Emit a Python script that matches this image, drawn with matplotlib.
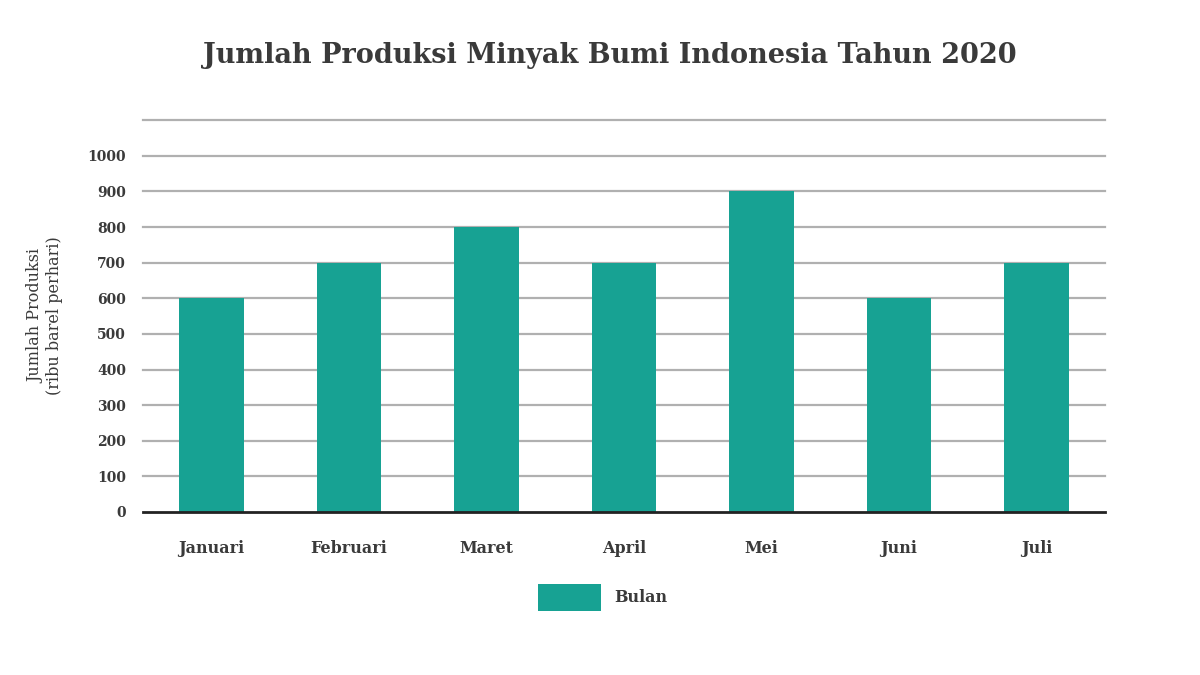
import matplotlib
matplotlib.use("Agg")
import matplotlib.pyplot as plt
from matplotlib.patches import Patch

months = ["Januari", "Februari", "Maret", "April", "Mei", "Juni", "Juli"]
production = [600, 700, 800, 700, 900, 600, 700]
yticks = [0, 100, 200, 300, 400, 500, 600, 700, 800, 900, 1000]
series_name = "Bulan"
title = "Jumlah Produksi Minyak Bumi Indonesia Tahun 2020"
ylabel = "Jumlah Produksi\n(ribu barel perhari)"

bar_color = "#17a293"
text_color = "#3a3a3a"

plt.rcParams['font.family'] = ['DejaVu Serif']
fig = plt.figure(figsize=(12, 6.75), dpi=100)
ax = fig.add_axes([0.119, 0.2415, 0.802, 0.5805])

x = list(range(len(months)))
ax.bar(x, production, width=0.47, color=bar_color, zorder=3)

ax.set_xlim(-0.5, len(months) - 0.5)
ax.set_ylim(0, 1100)
ax.set_yticks(yticks)
ax.set_yticklabels([str(v) for v in yticks], fontsize=10, fontweight='bold', color=text_color)
ax.set_xticks(x)
ax.set_xticklabels(months, fontsize=11.5, fontweight='bold', color=text_color)
ax.tick_params(axis='both', length=0)
ax.tick_params(axis='y', pad=12)
ax.tick_params(axis='x', pad=20)

for v in yticks[1:] + [1100]:
    ax.axhline(v, color="#b0b0b0", lw=1.6, zorder=1, clip_on=False)
for s in ["top", "right", "left"]:
    ax.spines[s].set_visible(False)
ax.spines["bottom"].set_color("#222222")
ax.spines["bottom"].set_linewidth(2)
ax.spines["bottom"].set_zorder(4)

ax.set_ylabel(ylabel, fontsize=11.5, fontweight='normal', color=text_color, labelpad=18, linespacing=1.05)

fig.text(0.508, 0.918, title, ha='center', va='center', fontsize=19.5, fontweight='bold', color=text_color)

handles = [Patch(facecolor=bar_color, label=series_name)]
fig.legend(handles=handles, loc='center', bbox_to_anchor=(0.502, 0.115), frameon=False,
           handlelength=4.0, handleheight=2.2, prop={'size': 11.5, 'weight': 'bold'},
           labelcolor=text_color)

fig.savefig("out.png", dpi=100, facecolor="white")
